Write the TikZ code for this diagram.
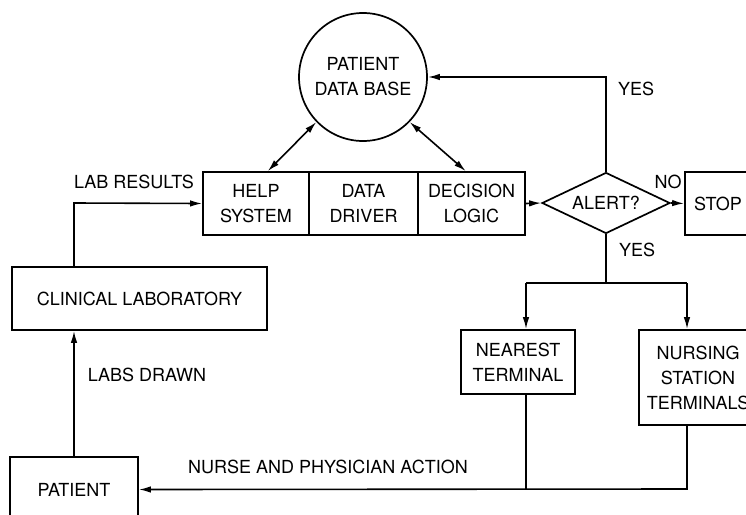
\documentclass[tikz,border=0pt]{standalone}
\usepackage{fontspec}
\setmainfont{TeX Gyre Heros}
\usepackage{tikz}
\usetikzlibrary{arrows.meta,shapes.geometric,calc}
\tikzstyle{bx}=[rectangle,draw=black,line width=1.7pt,inner sep=0pt,
  align=center,font=\fontsize{18}{25}\selectfont]
\tikzstyle{db}=[circle,draw=black,line width=1.7pt,inner sep=0pt,
  minimum size=128pt,align=center,font=\fontsize{18}{25}\selectfont]
\tikzstyle{dm}=[diamond,draw=black,line width=1.7pt,inner sep=0pt,aspect=2.1,
  minimum width=128pt,minimum height=61pt,font=\fontsize{18}{25}\selectfont]
\tikzstyle{lbl}=[inner sep=0pt,font=\fontsize{18}{25}\selectfont]
\tikzstyle{none}=[inner sep=0pt,minimum size=0pt]
\tikzstyle{ln}=[line width=1.6pt,-{Latex[length=12pt,width=6.5pt]}]
\tikzstyle{dl}=[line width=1.6pt,{Latex[length=12pt,width=6.5pt]}-{Latex[length=12pt,width=6.5pt]}]

\begin{document}
\begin{tikzpicture}[x=1pt,y=-1pt]
            \useasboundingbox (0, 0) rectangle (746, 514);
            \node [style=db] (0) at (363, 77) {PATIENT\\DATA BASE};
            \node [style=bx, minimum width=106pt, minimum height=63pt] (1) at (256, 203.5) {HELP\\SYSTEM};
            \node [style=bx, minimum width=109pt, minimum height=63pt] (2) at (363.5, 203.5) {DATA\\DRIVER};
            \node [style=bx, minimum width=107pt, minimum height=63pt] (3) at (471.5, 203.5) {DECISION\\LOGIC};
            \node [style=dm] (4) at (606, 203) {ALERT?};
            \node [style=bx, minimum width=66pt, minimum height=63pt] (5) at (718, 203.5) {STOP};
            \node [style=bx, minimum width=114pt, minimum height=64pt] (6) at (518, 362) {NEAREST\\TERMINAL};
            \node [style=bx, minimum width=118pt, minimum height=95pt] (7) at (698, 377.5) {NURSING\\STATION\\TERMINALS};
            \node [style=bx, minimum width=255pt, minimum height=63pt] (8) at (139.5, 298.5) {CLINICAL LABORATORY};
            \node [style=bx, minimum width=128pt, minimum height=65pt] (9) at (74, 489.5) {PATIENT};
            \node [style=lbl] (10) at (134, 182) {LAB RESULTS};
            \node [style=lbl] (11) at (147, 375) {LABS DRAWN};
            \node [style=lbl] (12) at (328, 467) {NURSE AND PHYSICIAN ACTION};
            \node [style=lbl] (13) at (636, 89) {YES};
            \node [style=lbl] (14) at (668, 182) {NO};
            \node [style=lbl] (15) at (637, 250) {YES};
            \node [style=none] (16) at (606, 283) {};
            \node [style=none] (17) at (526, 283) {};
            \node [style=none] (18) at (687, 283) {};
            \node [style=none] (19) at (526, 489) {};
            \node [style=none] (20) at (687, 489) {};
            \node [style=none] (21) at (74, 203) {};
            \draw [style=dl] (0.224) to (1.70);
            \draw [style=dl] (0.316) to (3.100);
            \draw [style=ln] (3.east) to (4.west);
            \draw [style=ln] (4.east) to (5.west);
            \draw [style=ln] (4.north) |- (0.east);
            \draw [line width=1.6pt] (4.south) to (16.center);
            \draw [line width=1.6pt] (17.center) to (18.center);
            \draw [style=ln] (17.center) to (6.north -| 17.center);
            \draw [style=ln] (18.center) to (7.north -| 18.center);
            \draw [line width=1.6pt] (6.south -| 19.center) to (19.center);
            \draw [style=ln] (7.south -| 20.center) to (20.center) to (9.east);
            \draw [style=ln] (9.north) to (9.north |- 8.south);
            \draw [style=ln] (8.north -| 21.center) to (21.center) to (1.west);
    \end{tikzpicture}
\end{document}
